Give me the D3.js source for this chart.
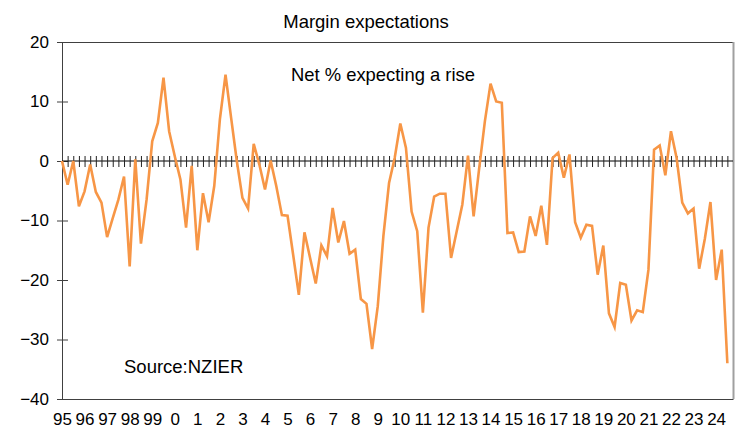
<!DOCTYPE html>
<html>
<head>
<meta charset="utf-8">
<script src="https://cdn.jsdelivr.net/npm/d3@7"></script>
<style>
  html, body { margin: 0; padding: 0; background: #fff; }
  svg { display: block; font-family: "Liberation Sans", Arial, sans-serif; }
</style>
</head>
<body>
<svg id="chart" width="753" height="441"></svg>
<script>
// Quarterly data, 1995 Q1 to 2024 Q3
const startYear = 1995;
const yearLabels = ["95","96","97","98","99","0","1","2","3","4","5","6","7","8","9","10","11","12","13","14","15","16","17","18","19","20","21","22","23","24"];
const marginValues = [
  0, -4.0, 0, -7.6, -5.1, -0.6, -5.2, -7.0, -12.8, -9.6,
  -6.5, -2.6, -17.7, 0.3, -13.9, -6.5, 3.3, 6.4, 14.0, 5.0,
  0.8, -3.1, -11.2, -0.8, -15.0, -5.4, -10.3, -4.2, 7.0, 14.5,
  7.2, 0, -6.2, -8.0, 2.9, -0.6, -4.8, 0.1, -4.2, -9.1,
  -9.2, -15.8, -22.5, -12.0, -16.3, -20.6, -14.2, -16.0, -7.9, -13.7,
  -10.1, -15.6, -14.9, -23.2, -24.0, -31.6, -24.4, -12.6, -3.7, 0.5,
  6.3, 2.2, -8.5, -11.8, -25.5, -11.2, -6.0, -5.5, -5.5, -16.3,
  -11.8, -7.3, 0.9, -9.3, -1.1, 6.7, 13.0, 10.0, 9.8, -12.1,
  -12.0, -15.3, -15.2, -9.3, -12.6, -7.5, -14.1, 0.5, 1.4, -2.8,
  1.1, -10.3, -12.9, -10.7, -10.9, -19.1, -14.2, -25.6, -27.9, -20.5,
  -20.8, -26.8, -25.1, -25.4, -18.3, 1.9, 2.6, -2.4, 5.0, 0.5,
  -7.0, -8.8, -8.0, -18.1, -13.1, -6.9, -20.0, -14.9, -34.0
];
const yTicks = [-40, -30, -20, -10, 0, 10, 20];
const titleText = "Margin expectations";
const subtitleText = "Net % expecting a rise";
const sourceText = "Source:NZIER";

const svg = d3.select("#chart");
const plotLeft = 62, plotRight = 733, plotTop = 42, plotBottom = 399;
const nSlots = marginValues.length; // 119 -> axis domain 0..119

const x = d3.scaleLinear().domain([0, nSlots]).range([plotLeft, plotRight]);
const y = d3.scaleLinear().domain([-40, 20]).range([plotBottom, plotTop]);

// Frame: top (dark) and right (grey)
svg.append("line").attr("x1", plotLeft).attr("x2", plotRight).attr("y1", plotTop + 0.5).attr("y2", plotTop + 0.5)
  .attr("stroke", "#404040").attr("stroke-width", 1);
svg.append("line").attr("x1", plotRight + 0.5).attr("x2", plotRight + 0.5).attr("y1", plotTop).attr("y2", plotBottom)
  .attr("stroke", "#a0a0a0").attr("stroke-width", 2);

// Y axis (ticks crossing the axis)
const yAxis = svg.append("g").attr("transform", `translate(${plotLeft},0)`)
  .call(d3.axisLeft(y).tickValues(yTicks).tickSize(5).tickPadding(8).tickFormat(d3.format("d")));
yAxis.select(".domain").attr("stroke", "#404040");
yAxis.selectAll(".tick line").attr("x1", -5).attr("x2", 6).attr("stroke", "#404040");
yAxis.selectAll(".tick text").attr("x", -13).attr("font-size", "17px")
  .attr("font-family", "Liberation Sans, Arial, sans-serif").attr("fill", "#000");

// Bottom axis with year labels
const xLabelAxis = svg.append("g").attr("transform", `translate(0,${plotBottom})`)
  .call(d3.axisBottom(x).tickValues(d3.range(0, nSlots, 4)).tickSize(0)
    .tickFormat((d, i) => yearLabels[i]));
xLabelAxis.select(".domain").attr("stroke", "#404040");
xLabelAxis.selectAll(".tick text").attr("y", 26).attr("dy", 0).attr("font-size", "17px")
  .attr("font-family", "Liberation Sans, Arial, sans-serif").attr("fill", "#000");

// Zero line with quarterly crossing ticks
const zeroAxis = svg.append("g").attr("transform", `translate(0,${y(0)})`)
  .call(d3.axisBottom(x).tickValues(d3.range(1, nSlots)).tickSize(6).tickFormat(""));
zeroAxis.select(".domain").attr("stroke", "#000").attr("d", `M${plotLeft},0H${plotRight}`);
zeroAxis.selectAll(".tick line").attr("y1", -5).attr("y2", 6).attr("stroke", "#222");

// Data line
const line = d3.line().x((d, i) => x(i)).y(d => y(d));
svg.append("path").datum(marginValues)
  .attr("fill", "none").attr("stroke", "#f79646").attr("stroke-width", 2.6)
  .attr("stroke-linejoin", "miter").attr("d", line);

// Texts
svg.append("text").attr("x", 366).attr("y", 28).attr("text-anchor", "middle")
  .attr("font-size", "18.5px").attr("fill", "#000").text(titleText);
svg.append("text").attr("x", 291).attr("y", 81).attr("text-anchor", "start")
  .attr("font-size", "18.4px").attr("fill", "#000").text(subtitleText);
svg.append("text").attr("x", 124).attr("y", 373).attr("text-anchor", "start")
  .attr("font-size", "18.5px").attr("fill", "#000").text(sourceText);
</script>
</body>
</html>
